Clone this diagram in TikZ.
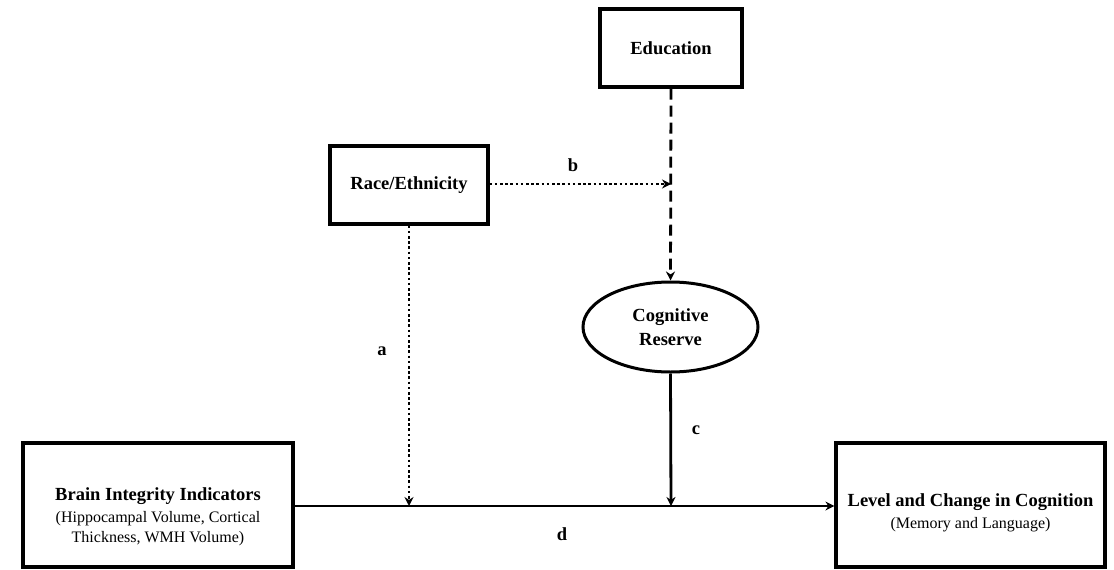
\documentclass[tikz,border=0pt]{standalone}
\usepackage{fontspec}
\setmainfont{Liberation Serif}
\usepackage{tikz}
\usetikzlibrary{arrows.meta,shapes.geometric}
\tikzstyle{bigbox} = [rectangle, draw=black, line width=3.2pt, minimum width=270pt, minimum height=124pt, inner sep=0pt]
\tikzstyle{smallbox} = [rectangle, draw=black, line width=3.2pt, minimum height=78pt, inner sep=0pt]
\tikzstyle{latent} = [ellipse, draw=black, line width=3pt, minimum width=175pt, minimum height=90pt, inner sep=0pt]
\tikzstyle{boxtext} = [align=center, font=\fontsize{18.5}{24}\selectfont\bfseries]
\tikzstyle{pathlabel} = [font=\fontsize{18.5}{20}\selectfont\bfseries]
\tikzstyle{arrow} = [line width=2.8pt,-{Stealth[length=9pt,width=9pt]}]
\tikzstyle{dotarrow} = [arrow, dash pattern=on 2.6pt off 2.6pt]
\tikzstyle{dasharrow} = [arrow, dash pattern=on 11pt off 6pt]
\newcommand{\subtext}[1]{{\mdseries\fontsize{16}{20}\selectfont #1}}

\begin{document}
\begin{tikzpicture}[x=1pt,y=-1pt]
	\useasboundingbox (0,0) rectangle (1114,570);

	\node (brain) [bigbox] at (158,505) {};
	\node (braintext) [boxtext] at (158,517) {Brain Integrity Indicators\\[-2pt]\subtext{(Hippocampal Volume, Cortical}\\[-4pt]\subtext{Thickness, WMH Volume)}};
	\node (level) [bigbox, minimum width=269pt] at (970.5,505) {};
	\node (leveltext) [boxtext] at (970.5,513) {Level and Change in Cognition\\[-2pt]\subtext{(Memory and Language)}};
	\node (race) [smallbox, minimum width=158pt, boxtext] at (409,185) {Race/Ethnicity};
	\node (educ) [smallbox, minimum width=142pt, boxtext] at (671,48) {Education};
	\node (reserve) [latent, boxtext, font=\fontsize{18.5}{24}\selectfont\bfseries] at (670.5,327) {Cognitive\\Reserve};

	\coordinate (amod) at (409,506);
	\coordinate (bmod) at (671,184);
	\coordinate (cmod) at (671,506);

	\draw [arrow] (brain.east |- amod) -- (level.west |- amod);
	\draw [dasharrow] (educ.south) -- (reserve.north);
	\draw [dotarrow] (race.east |- bmod) -- (bmod);
	\draw [dotarrow] (race.south) -- (amod);
	\draw [arrow] (reserve.south) -- (cmod);

	\node (lbla) [pathlabel] at (382,351) {a};
	\node (lblb) [pathlabel] at (573,165) {b};
	\node (lblc) [pathlabel] at (696,430) {c};
	\node (lbld) [pathlabel] at (562,534) {d};

\end{tikzpicture}
\end{document}
